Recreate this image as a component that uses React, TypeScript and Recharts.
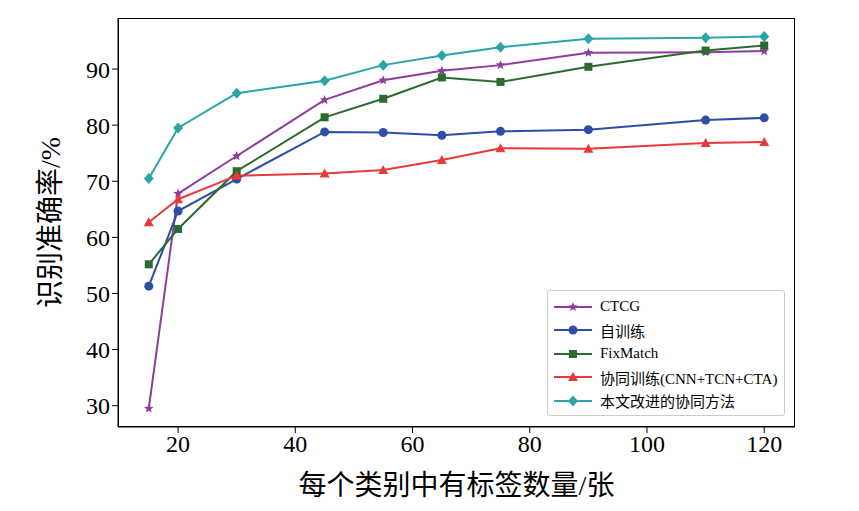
import { LineChart, Line, XAxis, YAxis } from "recharts";

const labeled = [15, 20, 30, 45, 55, 65, 75, 90, 110, 120];
const ctcg = [29.5, 67.8, 74.5, 84.5, 88.0, 89.7, 90.7, 92.9, 93.0, 93.2];
const selfTrain = [51.3, 64.7, 70.4, 78.8, 78.7, 78.2, 78.9, 79.2, 80.9, 81.3];
const fixMatch = [55.2, 61.5, 71.8, 81.4, 84.7, 88.5, 87.7, 90.4, 93.3, 94.2];
const coTrain = [62.7, 66.8, 71.0, 71.4, 72.0, 73.8, 75.9, 75.8, 76.8, 77.0];
const ours = [70.5, 79.5, 85.7, 87.9, 90.7, 92.4, 93.9, 95.4, 95.6, 95.8];
const xTicks = [20, 40, 60, 80, 100, 120];
const yTicks = [30, 40, 50, 60, 70, 80, 90];

const data = labeled.map((x, i) => ({
  x, ctcg: ctcg[i], self: selfTrain[i], fix: fixMatch[i], co: coTrain[i], ours: ours[i],
}));

const series = [
  { key: "ctcg", name: "CTCG", color: "#8e3d9c", shape: "star" },
  { key: "self", name: "自训练", color: "#2c4ea6", shape: "circle" },
  { key: "fix", name: "FixMatch", color: "#2b6a30", shape: "square" },
  { key: "co", name: "协同训练(CNN+TCN+CTA)", color: "#e8393b", shape: "triangle" },
  { key: "ours", name: "本文改进的协同方法", color: "#2aa5a6", shape: "diamond" },
];

const font = "'Liberation Serif', 'Noto Sans CJK SC', serif";

function Marker({ cx, cy, shape, color }: { cx: number; cy: number; shape: string; color: string }) {
  if (cx == null || cy == null) return null;
  if (shape === "circle") return <circle cx={cx} cy={cy} r={4.5} fill={color} />;
  if (shape === "square") return <rect x={cx - 4} y={cy - 4} width={8} height={8} fill={color} />;
  if (shape === "triangle")
    return <polygon points={`${cx},${cy - 5} ${cx - 5},${cy + 4} ${cx + 5},${cy + 4}`} fill={color} />;
  if (shape === "diamond")
    return <polygon points={`${cx},${cy - 5.5} ${cx + 5},${cy} ${cx},${cy + 5.5} ${cx - 5},${cy}`} fill={color} />;
  const pts: string[] = [];
  for (let i = 0; i < 10; i++) {
    const r = i % 2 === 0 ? 5 : 2.2;
    const a = -Math.PI / 2 + (i * Math.PI) / 5;
    pts.push(`${cx + r * Math.cos(a)},${cy + r * Math.sin(a)}`);
  }
  return <polygon points={pts.join(" ")} fill={color} />;
}

export default function App() {
  return (
    <div style={{ position: "absolute", left: 0, top: 0, width: 859, height: 511, background: "#fff" }}>
      <LineChart width={859} height={511} data={data} margin={{ top: 18, right: 64, bottom: 0, left: 0 }}>
        <XAxis
          dataKey="x" type="number" domain={[9.75, 125.25]} ticks={xTicks} height={84}
          stroke="#000" tickSize={6} tick={{ fill: "#000", fontSize: 24, fontFamily: font }}
          label={{ value: "每个类别中有标签数量/张", position: "insideBottom", offset: 16, fill: "#000", fontSize: 28, fontFamily: font }}
        />
        <YAxis
          type="number" domain={[26.2, 99.1]} ticks={yTicks} width={118}
          stroke="#000" tickSize={6} tick={{ fill: "#000", fontSize: 24, fontFamily: font }}
          label={{ value: "识别准确率/%", angle: -90, position: "insideLeft", offset: 50, fill: "#000", fontSize: 28, fontFamily: font, style: { textAnchor: "middle" } }}
        />
        {series.map((s) => (
          <Line
            key={s.key} dataKey={s.key} stroke={s.color} strokeWidth={2} isAnimationActive={false}
            dot={(p: any) => <Marker key={`${s.key}-${p.index}`} cx={p.cx} cy={p.cy} shape={s.shape} color={s.color} />}
            activeDot={false}
          />
        ))}
      </LineChart>
      <div style={{ position: "absolute", left: 118, top: 18, width: 677, height: 409, border: "1px solid #000", boxSizing: "border-box", pointerEvents: "none" }} />
      <div style={{ position: "absolute", left: 547, top: 290, width: 238, height: 126, border: "1px solid #ccc", borderRadius: 3, background: "#fff", fontFamily: font, fontSize: 15, padding: "4px 0", boxSizing: "border-box" }}>
        {series.map((s) => (
          <div key={s.key} style={{ display: "flex", alignItems: "center", height: 23.5 }}>
            <svg width={44} height={14} style={{ marginLeft: 4, marginRight: 4 }}>
              <line x1={2} y1={7} x2={40} y2={7} stroke={s.color} strokeWidth={2} />
              <Marker cx={21} cy={7} shape={s.shape} color={s.color} />
            </svg>
            <span>{s.name}</span>
          </div>
        ))}
      </div>
    </div>
  );
}
